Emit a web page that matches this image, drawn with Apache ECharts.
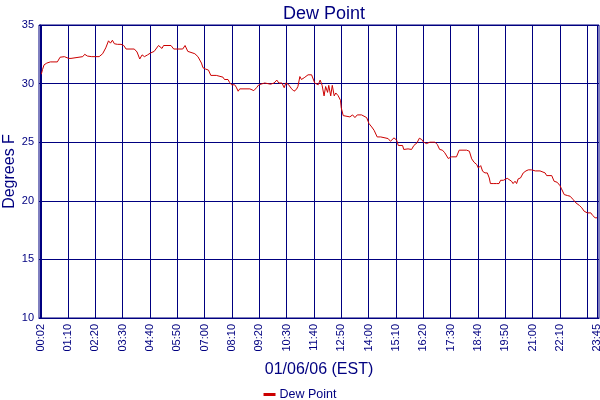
<!DOCTYPE html>
<html>
<head>
<meta charset="utf-8">
<script src="https://cdn.jsdelivr.net/npm/echarts@6/dist/echarts.min.js"></script>
<style>
  html, body { margin: 0; padding: 0; background: #fff; }
  #chart { width: 600px; height: 400px; }
</style>
</head>
<body>
<div id="chart"></div>
<script>
// tick labels on the time axis
var tickLabels = ['00:02', '01:10', '02:20', '03:30', '04:40', '05:50', '07:00', '08:10',
  '09:20', '10:30', '11:40', '12:50', '14:00', '15:10', '16:20', '17:30', '18:40',
  '19:50', '21:00', '22:10', '23:20', '23:45'];

// minutes after midnight
var times = [
  2, 5, 9, 16, 25, 43, 50, 61, 66, 72,
  78, 82, 108, 113, 120, 125, 131, 150, 159, 167,
  174, 179, 184, 189, 197, 206, 213, 219, 240, 247,
  254, 260, 266, 274, 281, 291, 302, 306, 311, 315,
  334, 341, 364, 370, 377, 382, 395, 403, 412, 416,
  422, 430, 436, 450, 454, 467, 471, 480, 484, 489,
  497, 501, 506, 510, 536, 540, 546, 553, 559, 564,
  574, 578, 589, 598, 605, 610, 618, 624, 628, 634,
  643, 649, 655, 659, 664, 668, 675, 685, 694, 698,
  702, 706, 711, 716, 721, 726, 730, 735, 738, 743,
  747, 752, 756, 762, 768, 770, 775, 779, 792, 799,
  805, 811, 822, 826, 835, 841, 848, 854, 862, 871,
  876, 882, 890, 896, 905, 912, 916, 927, 930, 941,
  950, 956, 964, 970, 976, 980, 988, 997, 1010, 1016,
  1022, 1029, 1035, 1044, 1052, 1065, 1072, 1091, 1098, 1104,
  1110, 1117, 1121, 1127, 1132, 1138, 1144, 1149, 1152, 1159,
  1163, 1168, 1174, 1178, 1185, 1190, 1195, 1200, 1206, 1210,
  1215, 1219, 1223, 1229, 1236, 1243, 1249, 1257, 1262, 1267,
  1279, 1283, 1292, 1296, 1309, 1315, 1323, 1330, 1334, 1341,
  1349, 1356, 1364, 1371, 1380, 1386, 1392, 1400, 1409, 1414,
  1420, 1425
];

// dew point, degrees F
var dewPoint = [
  30.8, 31.2, 31.6, 31.75, 31.85, 31.85, 32.25, 32.3, 32.45, 32.15,
  32.15, 32.3, 32.3, 32.5, 32.35, 32.5, 32.3, 32.3, 32.55, 33.05,
  33.65, 33.45, 33.7, 33.4, 33.35, 33.35, 33.25, 32.95, 32.95, 32.7,
  32.1, 32.45, 32.3, 32.45, 32.6, 32.75, 33.25, 33.4, 33.0, 33.25,
  33.25, 32.95, 32.95, 33.25, 32.75, 32.67, 32.55, 32.3, 31.75, 31.35,
  31.25, 31.15, 30.7, 30.7, 30.6, 30.55, 30.35, 30.35, 30.1, 29.9,
  29.9, 29.7, 29.35, 29.55, 29.55, 29.4, 29.4, 29.65, 29.9, 30.05,
  30.05, 29.9, 29.95, 30.05, 30.3, 30.05, 30.05, 29.65, 30.05, 29.95,
  29.55, 29.35, 29.5, 29.75, 30.6, 30.35, 30.5, 30.75, 30.75, 30.6,
  30.05, 29.9, 29.9, 30.3, 29.85, 28.95, 29.75, 29.25, 29.85, 28.95,
  29.85, 28.95, 29.2, 28.97, 28.58, 27.93, 27.27, 27.16, 27.16, 27.33,
  27.1, 27.33, 27.33, 27.16, 27.1, 26.59, 26.3, 26.02, 25.45, 25.45,
  25.57, 25.37, 25.31, 25.08, 25.37, 25.17, 24.72, 24.72, 24.38, 24.43,
  24.38, 24.72, 24.95, 25.34, 25.23, 25.03, 24.88, 25.0, 25.0, 24.8,
  24.38, 24.32, 24.1, 23.61, 23.75, 23.75, 24.32, 24.32, 24.23, 23.58,
  23.29, 23.09, 22.8, 23.0, 22.52, 22.38, 22.38, 21.95, 21.47, 21.47,
  21.61, 21.47, 21.47, 21.75, 21.75, 21.67, 21.92, 21.92, 21.67, 21.47,
  21.67, 21.47, 21.87, 21.95, 22.38, 22.55, 22.64, 22.64, 22.47, 22.55,
  22.55, 22.44, 22.38, 22.15, 22.15, 21.67, 21.58, 21.3, 21.02, 20.53,
  20.45, 20.39, 20.1, 19.82, 19.6, 19.4, 19.11, 18.97, 18.97, 18.74,
  18.55, 18.55
];

var navy = '#000080';
var font = "'Liberation Sans', Arial, sans-serif";

function toMinutes(s) {
  var p = s.split(':');
  return parseInt(p[0], 10) * 60 + parseInt(p[1], 10);
}
function toLabel(m) {
  var h = Math.floor(m / 60), mm = m % 60;
  return (h < 10 ? '0' : '') + h + ':' + (mm < 10 ? '0' : '') + mm;
}

var tickValues = tickLabels.map(toMinutes);
var points = [];
for (var i = 0; i < times.length; i++) {
  points.push([times[i], dewPoint[i]]);
}

var myChart = echarts.init(document.getElementById('chart'), null, { renderer: 'canvas' });

var option = {
  backgroundColor: '#ffffff',
  animation: false,
  title: {
    text: 'Dew Point',
    left: 319,
    textAlign: 'center',
    top: 0,
    textStyle: { color: navy, fontFamily: font, fontSize: 18, fontWeight: 'normal' }
  },
  legend: {
    data: ['Dew Point'],
    left: 'center',
    top: 383,
    icon: 'rect',
    itemWidth: 12,
    itemHeight: 3,
    itemGap: 4,
    textStyle: { color: navy, fontFamily: font, fontSize: 12.5, padding: [0, 0, 0, -1] }
  },
  grid: {
    left: 39,
    right: 1,
    top: 25,
    bottom: 82,
    containLabel: false,
    outerBoundsMode: 'none',
    show: true,
    borderColor: navy,
    borderWidth: 1,
    backgroundColor: '#ffffff'
  },
  xAxis: {
    type: 'value',
    min: -4,
    max: 1430,
    name: '01/06/06 (EST)',
    nameLocation: 'middle',
    nameGap: 44,
    nameTextStyle: { color: navy, fontFamily: font, fontSize: 16 },
    axisLine: { show: true, lineStyle: { color: navy, width: 1 } },
    axisTick: { show: false, customValues: tickValues },
    axisLabel: {
      customValues: tickValues,
      rotate: 90,
      margin: 6,
      color: navy,
      fontFamily: font,
      fontSize: 11,
      hideOverlap: false,
      showMinLabel: true,
      showMaxLabel: true,
      formatter: function (v) { return toLabel(v); }
    },
    splitLine: { show: true, lineStyle: { color: navy, width: 1 } }
  },
  yAxis: {
    type: 'value',
    min: 10,
    max: 35,
    interval: 5,
    name: 'Degrees F',
    nameLocation: 'middle',
    nameGap: 21,
    nameMoveOverlap: false,
    nameTextStyle: { color: navy, fontFamily: font, fontSize: 16 },
    axisLine: { show: true, lineStyle: { color: navy, width: 1 } },
    axisTick: { show: false },
    axisLabel: { color: navy, fontFamily: font, fontSize: 11, margin: 5 },
    splitLine: { show: true, lineStyle: { color: navy, width: 1 } }
  },
  series: [{
    name: 'Dew Point',
    type: 'line',
    data: points,
    showSymbol: false,
    symbol: 'none',
    color: '#cc0000',
    lineStyle: { color: '#cc0000', width: 1 },
    z: 5
  }]
};

myChart.setOption(option);
</script>
</body>
</html>
